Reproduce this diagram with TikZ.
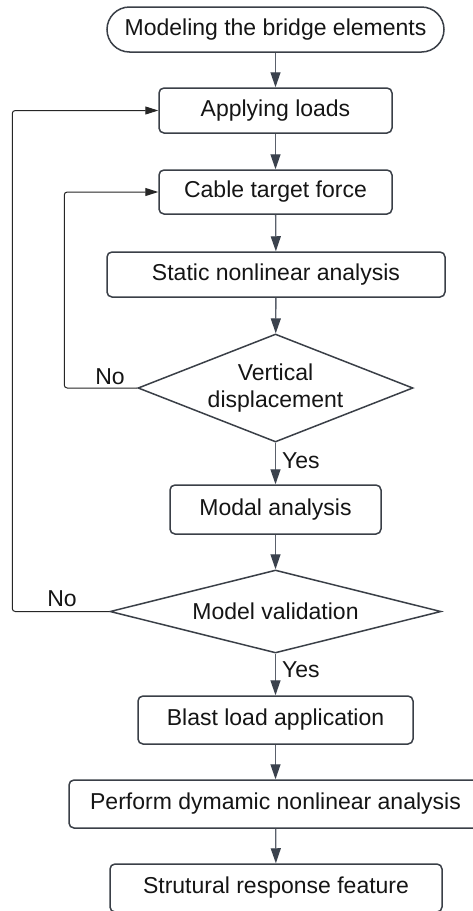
\documentclass[tikz,border=0pt]{standalone}
\usepackage{fontspec}
\setmainfont{Liberation Sans}
\usetikzlibrary{shapes.geometric,arrows.meta}
\definecolor{bord}{HTML}{3A3F47}
\definecolor{flowline}{HTML}{5A606B}
\definecolor{headc}{HTML}{3B424D}
\definecolor{txt}{HTML}{151515}
\tikzset{
  stepbox/.style={draw=bord, line width=1.5pt, rounded corners=5pt, inner sep=0pt,
    minimum height=46pt, text=txt, font=\fontsize{23}{27}\selectfont},
  termbox/.style={draw=bord, line width=1.5pt, rounded corners=22.5pt, inner sep=0pt,
    minimum height=45pt, text=txt, font=\fontsize{23}{27}\selectfont},
  decbox/.style={draw=bord, line width=1.5pt, shape=diamond, inner sep=0pt,
    text=txt, font=\fontsize{23}{27}\selectfont, align=center},
  flow/.style={draw=flowline, line width=1.3pt,
    -{Triangle[length=15pt,width=10pt,color=headc]}},
  loopline/.style={draw=black!85, line width=1pt, rounded corners=3pt,
    -{Triangle[length=13pt,width=8pt]}},
  lbl/.style={text=txt, font=\fontsize{23}{27}\selectfont, inner sep=0pt}
}
\begin{document}
\begin{tikzpicture}[x=1pt,y=-1pt]
\useasboundingbox (0,0) rectangle (472,911);
\fill[white] (0,0) rectangle (472,911);

\node[termbox, minimum width=337pt] (model) at (275.5,29.5) {Modeling the bridge elements};
\node[stepbox, minimum width=233pt, minimum height=45pt] (loads) at (275.5,110.5) {Applying loads};
\node[stepbox, minimum width=233pt, minimum height=44pt] (cable) at (275.5,192) {Cable target force};
\node[stepbox, minimum width=338pt, minimum height=45pt] (static) at (276,274.5) {Static nonlinear analysis};
\node[decbox, aspect=2.5, minimum width=275pt, minimum height=108pt] (vd) at (275.5,388) {Vertical\\displacement};
\node[stepbox, minimum width=211pt, minimum height=49pt] (modal) at (275.5,509.5) {Modal analysis};
\node[decbox, aspect=4, minimum width=331pt, minimum height=83pt] (mv) at (275.5,611.5) {Model validation};
\node[stepbox, minimum width=275pt, minimum height=48pt] (blast) at (275.5,720) {Blast load application};
\node[stepbox, minimum width=413pt, minimum height=48pt] (dyn) at (275.5,804) {Perform dymamic nonlinear analysis};
\node[stepbox, minimum width=332pt, minimum height=48pt] (resp) at (276,888) {Strutural response feature};

\draw[flow] (model) -- (loads);
\draw[flow] (loads) -- (cable);
\draw[flow] (cable) -- (static);
\draw[flow] (static) -- (vd);
\draw[flow] (vd) -- (modal);
\draw[flow] (modal) -- (mv);
\draw[flow] (mv) -- (blast);
\draw[flow] (blast) -- (dyn);
\draw[flow] (dyn) -- (resp);

\draw[loopline] (vd.west) -- ++(-73,0) |- (cable.west);
\draw[loopline] (mv.west) -- ++(-97,0) |- (loads.west);

\node[lbl] (no1) at (110,377) {No};
\node[lbl] (no2) at (62,599) {No};
\node[lbl, anchor=west] (yes1) at (282,461) {Yes};
\node[lbl, anchor=west] (yes2) at (282,670) {Yes};
\end{tikzpicture}
\end{document}
